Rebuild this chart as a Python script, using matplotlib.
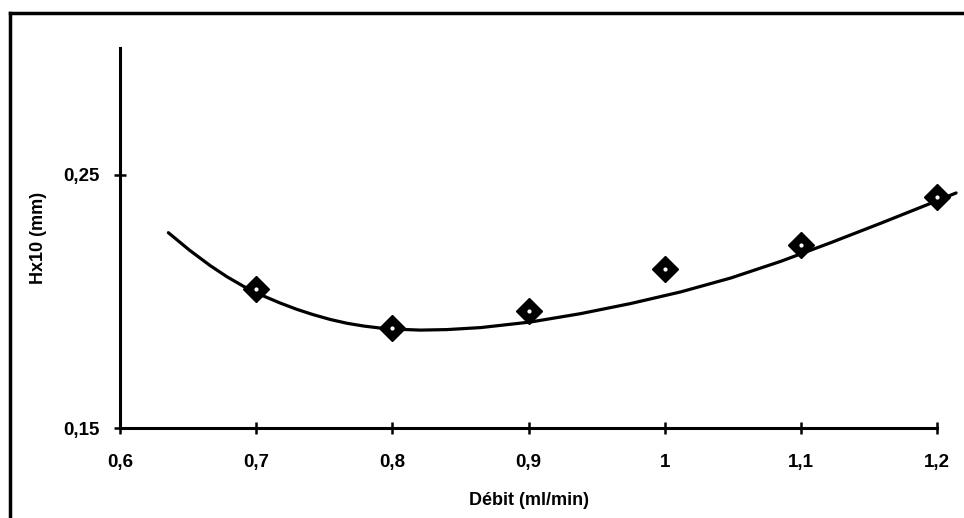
import matplotlib
matplotlib.use("Agg")
from matplotlib import pyplot as plt
from matplotlib.lines import Line2D
from matplotlib.ticker import FuncFormatter

plt.rcParams["font.family"] = ["Liberation Sans", "DejaVu Sans"]
plt.rcParams["font.weight"] = "bold"

# measured points
debit = [0.7, 0.8, 0.9, 1.0, 1.1, 1.2]
hauteur = [0.2049, 0.1895, 0.1962, 0.2128, 0.2223, 0.2413]

# trend curve
curve_x = [0.6355, 0.651, 0.6662, 0.6785, 0.6907, 0.704, 0.7176, 0.7299, 0.7419, 0.7544,
           0.7667, 0.779, 0.7912, 0.8059, 0.8206, 0.840, 0.865, 0.9015, 0.9382, 0.975,
           1.0118, 1.0486, 1.0854, 1.1222, 1.159, 1.1958, 1.214]
curve_y = [0.2272, 0.2203, 0.2142, 0.2098, 0.2060, 0.2025, 0.1994, 0.1969, 0.1948, 0.1929,
           0.1914, 0.1903, 0.1895, 0.1890, 0.1887, 0.1889, 0.1897, 0.1919, 0.1952, 0.1992,
           0.2038, 0.2093, 0.2159, 0.2233, 0.2310, 0.2389, 0.2429]

x_ticks = [0.6, 0.7, 0.8, 0.9, 1.0, 1.1, 1.2]
y_ticks = [0.15, 0.25]

fig = plt.figure(figsize=(9.64, 5.18), dpi=100)
ax = fig.add_axes([0.1245, 0.1737, 0.8475, 0.7327])

ax.plot(curve_x, curve_y, color="black", lw=2.3, clip_on=False, zorder=2,
        solid_joinstyle="round", solid_capstyle="round")
ax.plot(debit, hauteur, ls="none", marker="D", ms=13, color="black", zorder=3, clip_on=False)
ax.plot(debit, hauteur, ls="none", marker="o", ms=2, color="white", zorder=4, clip_on=False)

ax.set_xlim(0.6, 1.2)
ax.set_ylim(0.15, 0.30)
ax.set_xticks(x_ticks)
ax.set_yticks(y_ticks)

def comma(v, pos):
    s = ("%.2f" % v).rstrip("0").rstrip(".")
    return s.replace(".", ",")

ax.xaxis.set_major_formatter(FuncFormatter(comma))
ax.yaxis.set_major_formatter(FuncFormatter(comma))

for side in ["top", "right"]:
    ax.spines[side].set_visible(False)
for side in ["left", "bottom"]:
    ax.spines[side].set_linewidth(2.2)

ax.tick_params(axis="both", direction="inout", length=9, width=1.8, labelsize=13.5)
ax.tick_params(axis="x", pad=14)
ax.tick_params(axis="y", pad=10)

ax.set_xlabel("Débit (ml/min)", fontsize=13, fontweight="bold", labelpad=15)
ax.set_ylabel("Hx10 (mm)", fontsize=13, fontweight="bold", labelpad=12)

# scanned page frame
fig.add_artist(Line2D([0.0104, 0.0104], [0.0, 0.975], color="black", lw=2.5, transform=fig.transFigure))
fig.add_artist(Line2D([0.0104, 1.0], [0.975, 0.975], color="black", lw=2.5, transform=fig.transFigure))

fig.savefig("out.png", dpi=100)
